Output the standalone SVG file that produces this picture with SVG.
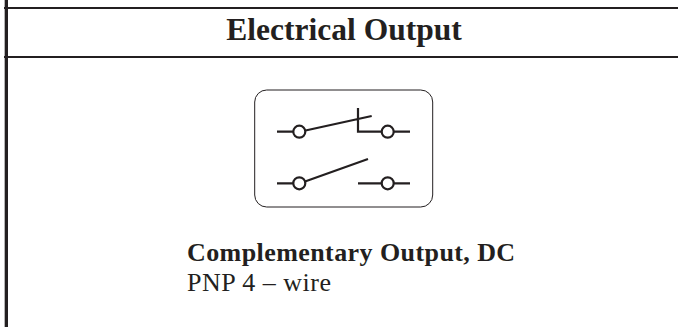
<svg xmlns="http://www.w3.org/2000/svg" width="678" height="327" viewBox="0 0 678 327">
<style>
.rule{stroke:#231f20;stroke-width:2;fill:none}
.w{stroke:#231f20;stroke-width:2.2;fill:none}
.c{stroke:#231f20;stroke-width:2.2;fill:#fff}
text{font-family:"Liberation Serif","Times New Roman",serif;fill:#231f20}
</style>
<rect width="678" height="327" fill="#fff"/>
<g id="frame">
<rect x="4" y="0" width="2" height="327" fill="#b5b5b5"/>
<rect x="5" y="0" width="3" height="327" fill="#231f20"/>
<path class="rule" d="M4 8H678M4 57H678"/>
</g>
<g id="title"><text x="344" y="39.500" font-size="31.500" font-weight="bold" text-anchor="middle">Electrical Output</text></g>
<g id="symbol">
<rect x="254.700" y="90" width="178" height="117" rx="12" fill="#fff" stroke="#231f20" stroke-width="1"/>
<g id="connectors">
<path class="w" d="M277 131.700H293M305.500 130.500L371.700 116M358 108V131.700H382M394 131.700H410"/>
<path class="w" d="M277 183.300H293M305 181.500L368 159M358 183.300H381.500M394 183.300H410"/>
</g>
<g id="terminals">
<circle class="c" cx="299.300" cy="131.700" r="6"/>
<circle class="c" cx="387.700" cy="131.700" r="6"/>
<circle class="c" cx="299.300" cy="183.300" r="6"/>
<circle class="c" cx="387.700" cy="183.300" r="6"/>
</g>
</g>
<g id="caption">
<text x="187" y="261" font-size="26" font-weight="bold" letter-spacing="0.420">Complementary Output, DC</text>
<text x="187" y="291" font-size="26" letter-spacing="0.500">PNP 4 – wire</text>
</g>
</svg>
